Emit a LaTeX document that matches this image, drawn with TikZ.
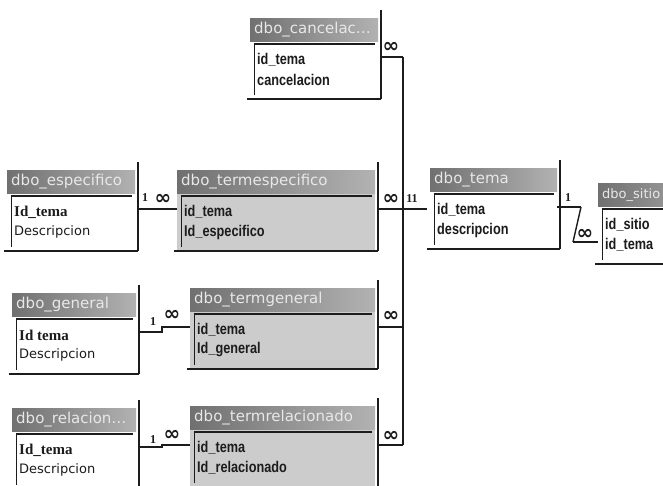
\documentclass[tikz,border=0pt]{standalone}
\usepackage{fontspec}
\usepackage{amsmath}
\usetikzlibrary{calc}
\setmainfont{DejaVu Sans}
\newfontfamily\dvfont{DejaVu Sans}
\newfontfamily\serfont{Liberation Serif}
\newfontfamily\arfont[FakeStretch=0.82]{Liberation Sans}
\newcommand\keyfont{\serfont\bfseries\fontsize{15}{15}\selectfont}
\newcommand\descfont{\dvfont\fontsize{13}{13}\selectfont}
\newcommand\colfont{\arfont\bfseries\fontsize{15.5}{16}\selectfont}
\definecolor{barL}{RGB}{112,112,112}
\definecolor{barR}{RGB}{178,178,178}
\definecolor{rowgray}{RGB}{204,204,204}
\definecolor{ink}{RGB}{28,28,28}
\definecolor{titletxt}{RGB}{232,232,232}

\begin{document}
\begin{tikzpicture}[x=1pt, y=-1pt,
	edge/.style={draw=ink, line width=2pt},
	thinedge/.style={draw=ink, line width=1pt},
	sep/.style={draw=ink, line width=1.8pt},
	stub/.style={draw=ink, line width=2.4pt},
	bus/.style={draw=ink, line width=1.4pt},
	box/.style={inner sep=0, minimum height=80pt, anchor=north west},
	ttext/.style={anchor=west, inner sep=0, text=titletxt, font=\dvfont\fontsize{15}{15}\selectfont},
	field/.style={anchor=west, inner sep=0, text=ink},
	one/.style={inner sep=0, text=ink, font=\serfont\bfseries\fontsize{12}{12}\selectfont},
	many/.style={inner sep=0, text=ink, font=\dvfont\bfseries\fontsize{20}{20}\selectfont}]
\clip (0,0) rectangle (663,485);
\fill[white] (0,0) rectangle (663,485);

% tables
\foreach \id/\xa/\xb/\ya/\ttl/\fa/\fb/\bg/\fna/\fnb in {
	canc/250/378/18/{dbo\_cancelac\ldots}/{id\_tema}/{cancelacion}/white/\colfont/\colfont,
	esp/7/135/170/{dbo\_especifico}/{Id\_tema}/{Descripcion}/white/\keyfont/\descfont,
	tesp/177/375/170/{dbo\_termespecifico}/{id\_tema}/{Id\_especifico}/rowgray/\colfont/\colfont,
	tema/430/557/168/{dbo\_tema}/{id\_tema}/{descripcion}/white/\colfont/\colfont,
	sitio/598/725/183/{\fontsize{13}{13}\selectfont dbo\_sitio}/{id\_sitio}/{id\_tema}/white/\colfont/\colfont,
	gen/12/136/293/{dbo\_general}/{Id tema}/{Descripcion}/white/\keyfont/\descfont,
	tgen/190/375/288/{dbo\_termgeneral}/{id\_tema}/{Id\_general}/rowgray/\colfont/\colfont,
	rel/12/136/408/{dbo\_relacion\ldots}/{Id\_tema}/{Descripcion}/white/\keyfont/\descfont,
	trel/190/375/406/{dbo\_termrelacionado}/{id\_tema}/{Id\_relacionado}/rowgray/\colfont/\colfont}{
	\pgfmathsetmacro\w{\xb-\xa}
	\node[box, minimum width=\w pt] (\id) at (\xa,\ya) {};
	\shade[left color=barL, right color=barR] (\xa,\ya) rectangle (\xb,\ya+24);
	\fill[\bg] (\xa,\ya+24) rectangle (\xb,\ya+80);
	\draw[sep] (\xa+4,\ya+26) -- (\xb-3,\ya+26);
	\draw[thinedge] (\xa+4,\ya+26) -- (\xa+4,\ya+77);
	\draw[edge] (\xb+3,\ya-8) -- (\xb+3,\ya+81);
	\draw[edge] (\xa-3,\ya+81) -- (\xb+3,\ya+81);
	\node[ttext] (\id-t) at (\xa+4,\ya+12) {\ttl};
	\node[field, font=\fna] (\id-1) at (\xa+7,\ya+42) {\fa};
	\node[field, font=\fnb] (\id-2) at (\xa+7,\ya+62) {\fb};
}

% relationships
\coordinate (bus) at (403,0);
\coordinate (gstep) at (162,0);
\coordinate (z1) at (581,207);
\coordinate (z2) at (573,242);
\draw[stub] ($(canc.east|-canc-1)+(3,-3)$) -- ($(bus|-canc-1)+(0,-3)$);
\draw[bus] ($(bus|-canc-1)+(0,-3)$) -- ($(bus|-trel-1)+(0,-3)$);
\draw[stub] ($(tesp.east|-tesp-1)+(3,-3)$) -- ($(tema.west|-tesp-1)+(-3,-3)$);
\draw[stub] ($(tgen.east|-tgen-1)+(3,-3)$) -- ($(bus|-tgen-1)+(0,-3)$);
\draw[stub] ($(trel.east|-trel-1)+(3,-3)$) -- ($(bus|-trel-1)+(0,-3)$);
\draw[stub] ($(esp.east|-esp-1)+(3,-3)$) -- ($(tesp.west|-esp-1)+(0,-3)$);
\draw[stub] ($(gen.east|-gen-1)+(3,-3)$) -- ($(gstep|-gen-1)+(0,-3)$) -- ($(gstep|-tgen-1)+(0,-3)$) -- ($(tgen.west|-tgen-1)+(0,-3)$);
\draw[stub] ($(rel.east|-rel-1)+(3,-3)$) -- ($(gstep|-rel-1)+(0,-3)$) -- ($(gstep|-trel-1)+(0,-3)$) -- ($(trel.west|-trel-1)+(0,-3)$);
\draw[stub] (tema.east|-z1) -- (z1);
\draw[bus] (z1) -- (z2);
\draw[stub] (z2) -- (sitio.west|-z2);

\node[many] (m-canc) at (391,47) {∞};
\node[many] (m-tesp) at (391,199) {∞};
\node[one] (o-tema) at (412,199) {11};
\node[many] (m-tgen) at (391,316) {∞};
\node[many] (m-trel) at (391,436) {∞};
\node[one] (o-esp) at (145,198) {1};
\node[many] (m-esp) at (163,199) {∞};
\node[one] (o-gen) at (153,322) {1};
\node[many] (m-gen) at (172,315) {∞};
\node[one] (o-rel) at (153,440) {1};
\node[many] (m-rel) at (172,435) {∞};
\node[one] (o-sitio) at (568,198) {1};
\node[many] (m-sitio) at (585,234) {∞};
\end{tikzpicture}
\end{document}
